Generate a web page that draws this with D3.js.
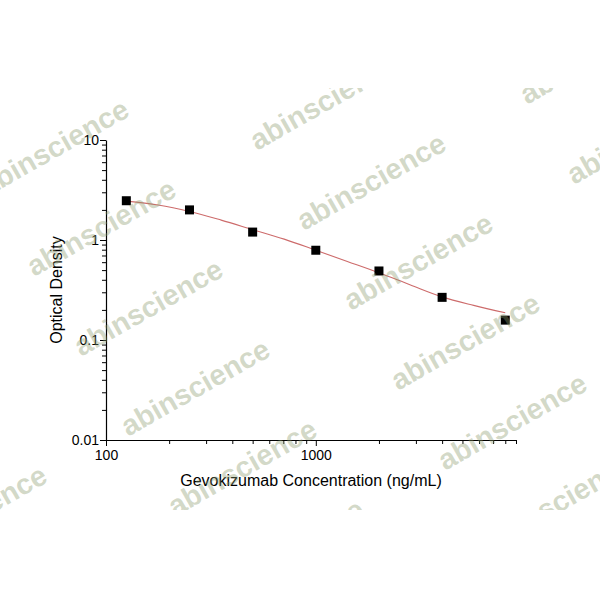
<!DOCTYPE html>
<html>
<head>
<meta charset="utf-8">
<script src="https://cdn.jsdelivr.net/npm/d3@7"></script>
<style>
  body { margin: 0; background: #fff; }
  svg { display: block; }
  text { font-family: "Liberation Sans", Arial, sans-serif; }
</style>
</head>
<body>
<div id="chart"></div>
<script>
// measured standards (ng/mL vs OD)
var concentrations = [125, 250, 500, 1000, 2000, 4000, 8000];
var odValues = [2.47, 2.00, 1.20, 0.79, 0.49, 0.267, 0.158];

// fitted curve
var fitConc = [125, 177, 250, 354, 500, 707, 1000, 1414, 2000, 2828, 4000, 5657, 8000];
var fitOD = [2.45, 2.24, 1.93, 1.58, 1.27, 1.02, 0.79, 0.61, 0.47, 0.355, 0.27, 0.222, 0.187];

var xMajorTicks = [100, 1000];
var yMajorTicks = [0.01, 0.1, 1, 10];

var svgWidth = 600;
var svgHeight = 600;

var svg = d3.select("#chart")
  .append("svg")
  .attr("width", svgWidth)
  .attr("height", svgHeight);

var xScale = d3.scaleLog()
  .domain([100, 9000])
  .range([106, 516]);

var yScale = d3.scaleLog()
  .domain([0.01, 10])
  .range([440, 140]);

// all log ticks (majors + 2..9 minors) inside the domains
var xTicks = [];
[100, 1000].forEach(function(d) {
  for (var k = 1; k <= 9; k++) {
    if (d * k <= 9000) xTicks.push(d * k);
  }
});
var yTicks = [];
[0.01, 0.1, 1].forEach(function(d) {
  for (var k = 1; k <= 9; k++) yTicks.push(+(d * k).toPrecision(3));
});
yTicks.push(10);

// x axis
var xAxis = svg.append("g")
  .attr("transform", "translate(0,440)")
  .call(d3.axisBottom(xScale)
    .tickValues(xTicks)
    .tickSizeInner(6)
    .tickSizeOuter(0)
    .tickPadding(4)
    .tickFormat(function(d) { return xMajorTicks.indexOf(d) >= 0 ? d : ""; }));

xAxis.selectAll(".tick line")
  .attr("y2", function(d) { return xMajorTicks.indexOf(d) >= 0 ? 6 : 4; });

// y axis
var yAxis = svg.append("g")
  .attr("transform", "translate(106,0)")
  .call(d3.axisLeft(yScale)
    .tickValues(yTicks)
    .tickSizeInner(6)
    .tickSizeOuter(0)
    .tickPadding(1)
    .tickFormat(function(d) { return yMajorTicks.indexOf(d) >= 0 ? d : ""; }));

yAxis.selectAll(".tick line")
  .attr("x2", function(d) { return yMajorTicks.indexOf(d) >= 0 ? -6 : -4; });

svg.selectAll(".domain").attr("stroke", "#000").attr("stroke-width", 1.2);
svg.selectAll(".tick line").attr("stroke", "#000").attr("stroke-width", 1);
svg.selectAll(".tick text")
  .attr("fill", "#000")
  .style("font-size", "14px")
  .style("font-family", "Liberation Sans, Arial, sans-serif");

// axis titles
svg.append("text")
  .attr("x", 311)
  .attr("y", 486)
  .attr("text-anchor", "middle")
  .style("font-size", "16px")
  .text("Gevokizumab Concentration (ng/mL)");

svg.append("text")
  .attr("transform", "translate(62,290) rotate(-90)")
  .attr("text-anchor", "middle")
  .style("font-size", "16px")
  .text("Optical Density");

// fitted curve
var fitData = fitConc.map(function(c, i) { return { x: c, y: fitOD[i] }; });
var line = d3.line()
  .x(function(d) { return xScale(d.x); })
  .y(function(d) { return yScale(d.y); })
  .curve(d3.curveMonotoneX);

svg.append("path")
  .datum(fitData)
  .attr("d", line)
  .attr("fill", "none")
  .attr("stroke", "#cd6b6b")
  .attr("stroke-width", 1.1);

// data points
var pointData = concentrations.map(function(c, i) { return { x: c, y: odValues[i] }; });
var size = 9;
svg.selectAll("rect.pt")
  .data(pointData)
  .enter()
  .append("rect")
  .attr("class", "pt")
  .attr("x", function(d) { return xScale(d.x) - size / 2; })
  .attr("y", function(d) { return yScale(d.y) - size / 2; })
  .attr("width", size)
  .attr("height", size)
  .attr("fill", "#000");

// watermark lattice on top
svg.append("clipPath")
  .attr("id", "wmclip")
  .append("rect")
  .attr("x", 0).attr("y", 88)
  .attr("width", 600).attr("height", 422);

var wm = svg.append("g")
  .attr("clip-path", "url(#wmclip)")
  .attr("fill", "rgb(140,155,110)")
  .attr("fill-opacity", 0.38);

for (var i = -2; i <= 3; i++) {
  for (var j = -3; j <= 9; j++) {
    var cx = 54 + i * 223 + j * 47;
    var cy = 147 - i * 126 + j * 80;
    if (cx < -120 || cx > 720 || cy < 20 || cy > 580) continue;
    wm.append("text")
      .attr("transform", "translate(" + cx + "," + cy + ") rotate(-29.5)")
      .attr("text-anchor", "middle")
      .attr("dy", "0.36em")
      .style("font-size", "29px")
      .style("font-weight", "bold")
      .text("abinscience");
  }
}
</script>
</body>
</html>
